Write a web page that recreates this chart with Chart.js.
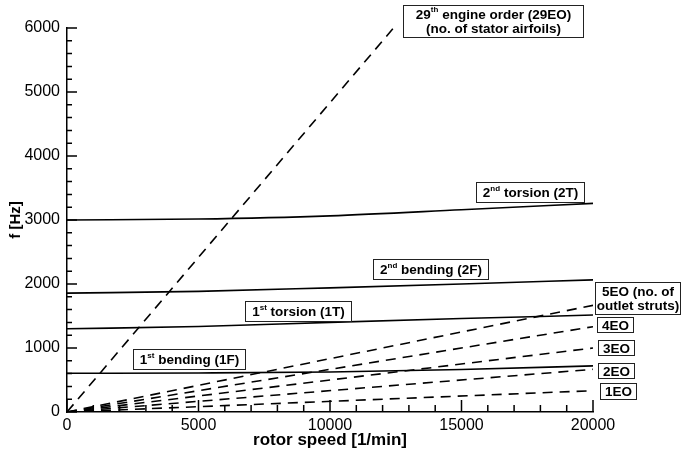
<!DOCTYPE html>
<html>
<head>
<meta charset="utf-8">
<title>Campbell diagram</title>
<script src="https://cdn.jsdelivr.net/npm/chart.js@4/dist/chart.umd.min.js"></script>
<style>
  html, body { margin: 0; padding: 0; background: #fff; }
  #wrap { width: 682px; height: 451px; }
</style>
</head>
<body>
<div id="wrap"><canvas id="campbell" width="682" height="451"></canvas></div>
<script>
// rotor speed sample points [1/min]
const rpm = [0, 5000, 10000, 15000, 20000];

// blade eigenfrequencies [Hz] at those speeds
const bending1 = [605, 610, 625, 665, 720];
const torsion1 = [1300, 1335, 1400, 1460, 1515];
const bending2 = [1858, 1885, 1940, 2000, 2065];
const torsion2 = [3000, 3015, 3065, 3160, 3260];

// engine order lines, start at origin, end at max speed
const eoRpm = [0, 20000];
const eo1 = [0, 333];
const eo2 = [0, 667];
const eo3 = [0, 1000];
const eo4 = [0, 1333];
const eo5 = [0, 1667];
// 29EO leaves the plot at 6000 Hz
const eo29Rpm = [0, 12414];
const eo29 = [0, 6000];

// axis ticks
const xTicks = [0, 5000, 10000, 15000, 20000];
const yTicks = [0, 1000, 2000, 3000, 4000, 5000, 6000];

const FONT = "'Liberation Sans', Arial, Helvetica, sans-serif";

function pts(xs, ys) {
    return xs.map((x, i) => ({ x: x, y: ys[i] }));
}

function modeLine(ys) {
    return {
        data: pts(rpm, ys),
        borderColor: '#000',
        borderWidth: 1.6,
        pointRadius: 0,
        cubicInterpolationMode: 'monotone'
    };
}

function eoLine(xs, ys) {
    return {
        data: pts(xs, ys),
        borderColor: '#000',
        borderWidth: 1.6,
        borderDash: [10, 7],
        pointRadius: 0
    };
}

// boxed labels, anchored by left edge (x) and vertical centre (y) in data units
// text between ^ ... ^ is drawn as superscript
const boxLabels = [
    { lines: ['29^th^ engine order (29EO)', '(no. of stator airfoils)'], x: 12776, y: 6109, padX: 13 },
    { lines: ['2^nd^ torsion (2T)'], x: 15551, y: 3430, padX: 7 },
    { lines: ['2^nd^ bending (2F)'], x: 11635, y: 2219, padX: 7 },
    { lines: ['1^st^ torsion (1T)'], x: 6768, y: 1578, padX: 7 },
    { lines: ['1^st^ bending (1F)'], x: 2510, y: 828, padX: 7 },
    { lines: ['5EO (no. of', 'outlet struts)'], x: 20076, y: 1766, padX: 2 },
    { lines: ['4EO'], x: 20152, y: 1352, padX: 5, h: 16 },
    { lines: ['3EO'], x: 20190, y: 1000, padX: 5, h: 16 },
    { lines: ['2EO'], x: 20190, y: 648, padX: 5, h: 16 },
    { lines: ['1EO'], x: 20266, y: 320, padX: 5, h: 17 }
];

function measureLine(ctx, text) {
    let w = 0;
    text.split('^').forEach((seg, i) => {
        ctx.font = (i % 2 ? 'bold 8px ' : 'bold 13.5px ') + FONT;
        w += ctx.measureText(seg).width;
    });
    return w;
}

function drawLine(ctx, text, x, y) {
    text.split('^').forEach((seg, i) => {
        const sup = i % 2 === 1;
        ctx.font = (sup ? 'bold 8px ' : 'bold 13.5px ') + FONT;
        ctx.fillText(seg, x, sup ? y - 5 : y);
        x += ctx.measureText(seg).width;
    });
}

const labelPlugin = {
    id: 'boxLabels',
    afterDraw(chart) {
        const ctx = chart.ctx;
        const xs = chart.scales.x, ys = chart.scales.y;
        ctx.save();
        ctx.textBaseline = 'middle';
        ctx.textAlign = 'left';
        boxLabels.forEach(lb => {
            const widths = lb.lines.map(t => measureLine(ctx, t));
            const lineH = 14.5;
            const w = Math.round(Math.max(...widths) + 2 * lb.padX);
            const h = lb.h || Math.round(lb.lines.length * lineH + (lb.lines.length > 1 ? 4 : 6));
            const left = Math.round(xs.getPixelForValue(lb.x));
            const top = Math.round(ys.getPixelForValue(lb.y) - h / 2);
            ctx.fillStyle = '#fff';
            ctx.fillRect(left, top, w, h);
            ctx.strokeStyle = '#222';
            ctx.lineWidth = 1;
            ctx.strokeRect(left + 0.5, top + 0.5, w - 1, h - 1);
            ctx.fillStyle = '#000';
            const y0 = top + h / 2 - (lb.lines.length - 1) * lineH / 2 + 1;
            lb.lines.forEach((t, i) => {
                drawLine(ctx, t, left + (w - widths[i]) / 2, y0 + i * lineH);
            });
        });
        ctx.restore();
    }
};

// inward major/minor ticks on both axes
const tickPlugin = {
    id: 'inTicks',
    afterDatasetsDraw(chart) {
        const ctx = chart.ctx;
        const xs = chart.scales.x, ys = chart.scales.y;
        const a = chart.chartArea;
        ctx.save();
        ctx.strokeStyle = '#000';
        ctx.lineWidth = 1.5;
        ctx.beginPath();
        for (let v = 0; v <= 20000; v += 1000) {
            const px = xs.getPixelForValue(v);
            const len = v % 5000 === 0 ? 12 : 7;
            ctx.moveTo(px, a.bottom);
            ctx.lineTo(px, a.bottom - len);
        }
        for (let v = 0; v <= 6000; v += 200) {
            const py = ys.getPixelForValue(v);
            const len = v % 1000 === 0 ? 10 : 5;
            ctx.moveTo(a.left, py);
            ctx.lineTo(a.left + len, py);
        }
        ctx.stroke();
        ctx.restore();
    }
};

const ctx = document.getElementById('campbell').getContext('2d');
const chart = new Chart(ctx, {
    type: 'line',
    data: {
        datasets: [
            modeLine(bending1),
            modeLine(torsion1),
            modeLine(bending2),
            modeLine(torsion2),
            eoLine(eoRpm, eo1),
            eoLine(eoRpm, eo2),
            eoLine(eoRpm, eo3),
            eoLine(eoRpm, eo4),
            eoLine(eoRpm, eo5),
            eoLine(eo29Rpm, eo29)
        ]
    },
    options: {
        responsive: false,
        animation: false,
        events: [],
        layout: { padding: { top: 28, right: 89, left: 0, bottom: 0 } },
        plugins: {
            legend: { display: false },
            tooltip: { enabled: false }
        },
        scales: {
            x: {
                type: 'linear',
                min: 0,
                max: 20000,
                afterBuildTicks: s => { s.ticks = xTicks.map(v => ({ value: v })); },
                ticks: {
                    color: '#000',
                    font: { family: FONT, size: 16 },
                    padding: 4,
                    maxRotation: 0,
                    callback: v => String(v)
                },
                grid: { display: false, drawTicks: false },
                border: { color: '#000', width: 1.5 },
                title: {
                    display: true,
                    text: 'rotor speed [1/min]',
                    color: '#000',
                    font: { family: FONT, size: 17, weight: 'bold' },
                    padding: { top: 0, bottom: 0 }
                },
                afterFit: s => { s.height = 39; }
            },
            y: {
                type: 'linear',
                min: 0,
                max: 6000,
                afterBuildTicks: s => { s.ticks = yTicks.map(v => ({ value: v })); },
                ticks: {
                    color: '#000',
                    font: { family: FONT, size: 16 },
                    padding: 7,
                    callback: v => String(v)
                },
                grid: { display: false, drawTicks: false },
                border: { color: '#000', width: 1.5 },
                title: {
                    display: true,
                    text: 'f [Hz]',
                    color: '#000',
                    font: { family: FONT, size: 15, weight: 'bold' },
                    padding: { top: 7, bottom: 0 }
                },
                afterFit: s => { s.width = 67; }
            }
        }
    },
    plugins: [tickPlugin, labelPlugin]
});
</script>
</body>
</html>
